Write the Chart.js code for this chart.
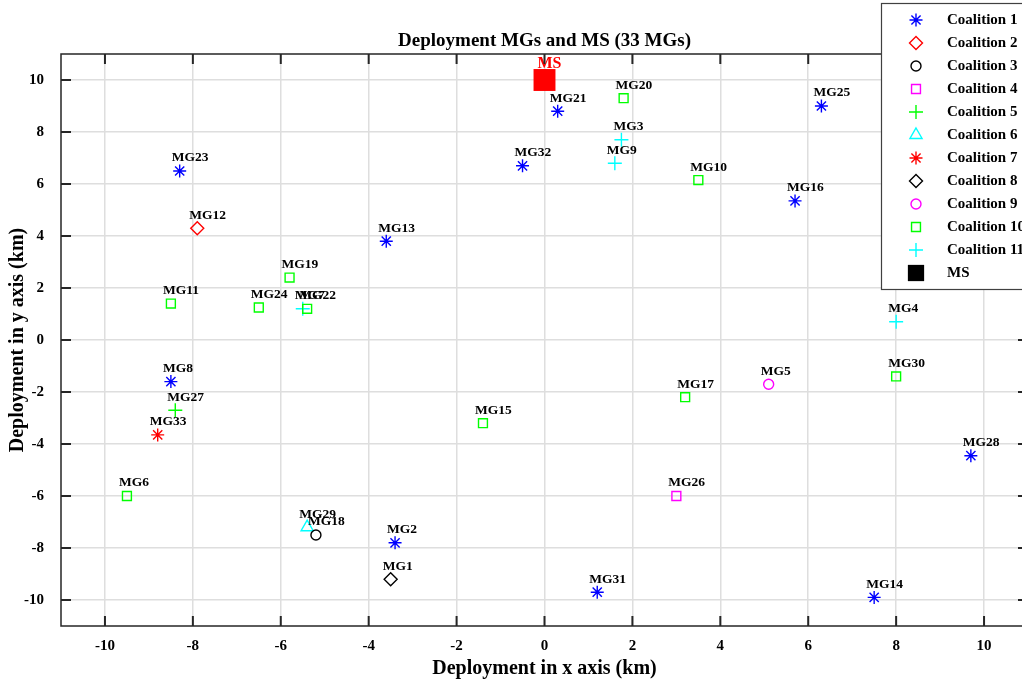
<!DOCTYPE html>
<html>
<head>
<meta charset="utf-8">
<title>Deployment MGs and MS</title>
<script src="https://cdn.jsdelivr.net/npm/chart.js@4.4.1/dist/chart.umd.min.js"></script>
<style>
  html, body { margin: 0; padding: 0; overflow: hidden; background: #fff; }
</style>
</head>
<body>
<canvas id="deploy-chart"></canvas>
<script>
// MG positions (km) and the coalition each one belongs to, MG1..MG33
const mgNames = [];
for (let i = 1; i <= 33; i++) mgNames.push('MG' + i);
const mgX = [-3.5, -3.4, 1.75, 8.0, 5.1, -9.5, -5.5, -8.5, 1.6, 3.5, -8.5,
             -7.9, -3.6, 7.5, -1.4, 5.7, 3.2, -5.2, -5.8, 1.8, 0.3, -5.4,
             -8.3, -6.5, 6.3, 3.0, -8.4, 9.7, -5.4, 8.0, 1.2, -0.5, -8.8];
const mgY = [-9.2, -7.8, 7.7, 0.7, -1.7, -6.0, 1.2, -1.6, 6.8, 6.15, 1.4,
             4.3, 3.8, -9.9, -3.2, 5.35, -2.2, -7.5, 2.4, 9.3, 8.8, 1.2,
             6.5, 1.25, 9.0, -6.0, -2.7, -4.45, -7.2, -1.4, -9.7, 6.7, -3.65];
const mgCoalition = [8, 1, 11, 11, 9, 10, 11, 1, 11, 10, 10,
                     2, 1, 1, 10, 1, 10, 3, 10, 10, 1, 10,
                     1, 10, 1, 4, 5, 1, 6, 10, 1, 1, 7];

// the macro station
const msX = [0];
const msY = [10];

const coalitionNames = ['Coalition 1', 'Coalition 2', 'Coalition 3', 'Coalition 4',
  'Coalition 5', 'Coalition 6', 'Coalition 7', 'Coalition 8', 'Coalition 9',
  'Coalition 10', 'Coalition 11'];
const coalitionMarker = ['star', 'rectRot', 'circle', 'rect', 'cross', 'triangle',
  'star', 'rectRot', 'circle', 'rect', 'cross'];
const coalitionColor = ['#0000ff', '#ff0000', '#000000', '#ff00ff', '#00ff00', '#00ffff',
  '#ff0000', '#000000', '#ff00ff', '#00ff00', '#00ffff'];
const markerRadius = { star: 6.5, rectRot: 6.5, circle: 5, rect: 6.3, cross: 7, triangle: 7 };

const xTicks = [-10, -8, -6, -4, -2, 0, 2, 4, 6, 8, 10];
const yTicks = [-10, -8, -6, -4, -2, 0, 2, 4, 6, 8, 10];

const SERIF = "'Liberation Serif', 'Times New Roman', serif";
const AXIS = '#262626';

const datasets = coalitionNames.map((name, c) => {
  const pts = [];
  mgNames.forEach((mg, i) => {
    if (mgCoalition[i] === c + 1) pts.push({ x: mgX[i], y: mgY[i], name: mg });
  });
  const style = coalitionMarker[c];
  return {
    label: name,
    data: pts,
    pointStyle: style,
    pointRadius: markerRadius[style],
    pointHoverRadius: markerRadius[style],
    borderColor: coalitionColor[c],
    backgroundColor: 'rgba(0,0,0,0)',
    pointBorderWidth: 1.4,
    showLine: false
  };
});
datasets.push({
  label: 'MS',
  data: msX.map((x, i) => ({ x: x, y: msY[i], name: 'MS' })),
  pointStyle: 'rect',
  pointRadius: 15.5,
  pointHoverRadius: 15.5,
  borderColor: '#ff0000',
  backgroundColor: '#ff0000',
  pointBorderWidth: 0,
  showLine: false
});

// box on all four sides with inward ticks, plus the title
const framePlugin = {
  id: 'frame',
  afterDraw(chart) {
    const { ctx, chartArea: a, scales } = chart;
    ctx.save();
    ctx.strokeStyle = AXIS;
    ctx.lineWidth = 1.5;
    ctx.strokeRect(a.left, a.top, a.right - a.left, a.bottom - a.top);
    ctx.lineWidth = 2;
    ctx.beginPath();
    xTicks.forEach(v => {
      const px = scales.x.getPixelForValue(v);
      ctx.moveTo(px, a.bottom); ctx.lineTo(px, a.bottom - 10);
      ctx.moveTo(px, a.top); ctx.lineTo(px, a.top + 10);
    });
    yTicks.forEach(v => {
      const py = scales.y.getPixelForValue(v);
      ctx.moveTo(a.left, py); ctx.lineTo(a.left + 10, py);
      ctx.moveTo(a.right, py); ctx.lineTo(a.right - 10, py);
    });
    ctx.stroke();

    ctx.fillStyle = '#000';
    ctx.font = 'bold 19px ' + SERIF;
    ctx.textAlign = 'center';
    ctx.textBaseline = 'middle';
    ctx.fillText('Deployment MGs and MS (33 MGs)', (a.left + a.right) / 2, 41);
    ctx.restore();
  }
};

// MG names written just above each marker
const labelPlugin = {
  id: 'mgLabels',
  afterDatasetsDraw(chart) {
    const { ctx } = chart;
    ctx.save();
    ctx.textAlign = 'left';
    ctx.textBaseline = 'middle';
    chart.data.datasets.forEach((ds, di) => {
      const meta = chart.getDatasetMeta(di);
      meta.data.forEach((el, j) => {
        const name = ds.data[j].name;
        if (name === 'MS') {
          ctx.fillStyle = '#ff0000';
          ctx.font = 'bold 16px ' + SERIF;
          ctx.fillText(name, el.x - 7, el.y - 16);
        } else {
          ctx.fillStyle = '#000';
          ctx.font = 'bold 13.5px ' + SERIF;
          ctx.fillText(name, el.x - 8, el.y - 13);
        }
      });
    });
    ctx.restore();
  }
};

// boxed legend in the top-right corner, drawn over the plot
const legendPlugin = {
  id: 'boxLegend',
  afterDraw(chart) {
    const { ctx } = chart;
    const left = 881, top = 3, rowH = 23;
    ctx.save();
    ctx.fillStyle = '#fff';
    ctx.strokeStyle = '#404040';
    ctx.lineWidth = 1.2;
    ctx.fillRect(left, top, 160, 286);
    ctx.strokeRect(left + 0.5, top + 0.5, 160, 286);
    chart.data.datasets.forEach((ds, i) => {
      const y = top + 17 + i * rowH;
      const isMS = ds.label === 'MS';
      ctx.strokeStyle = isMS ? '#000' : ds.borderColor;
      ctx.fillStyle = isMS ? '#000' : 'rgba(0,0,0,0)';
      ctx.lineWidth = 1.4;
      Chart.helpers.drawPoint(ctx, {
        pointStyle: ds.pointStyle,
        radius: isMS ? 11.5 : ds.pointRadius,
        borderWidth: isMS ? 0 : 1.4,
        rotation: 0
      }, 916, y);
      ctx.fillStyle = '#000';
      ctx.font = 'bold 15px ' + SERIF;
      ctx.textAlign = 'left';
      ctx.textBaseline = 'middle';
      ctx.fillText(ds.label, 947, y);
    });
    ctx.restore();
  }
};

document.addEventListener('DOMContentLoaded', () => {
  const canvas = document.getElementById('deploy-chart');
  canvas.setAttribute('width', '1030');
  canvas.setAttribute('height', '687');

  new Chart(canvas, {
    type: 'scatter',
    data: { datasets: datasets },
    options: {
      responsive: false,
      animation: false,
      layout: { autoPadding: false, padding: { top: 54, right: 2, left: 0, bottom: 0 } },
      plugins: {
        legend: { display: false },
        tooltip: { enabled: false },
        title: { display: false }
      },
      scales: {
        x: {
          type: 'linear',
          min: -11,
          max: 11,
          afterFit(s) { s.height = 61; },
          afterBuildTicks(s) { s.ticks = xTicks.map(v => ({ value: v })); },
          ticks: {
            color: '#000',
            padding: 11,
            maxRotation: 0,
            font: { family: SERIF, size: 15, weight: 'bold' }
          },
          grid: { color: '#dedede', lineWidth: 1.5, drawTicks: false },
          border: { display: false },
          title: {
            display: true,
            text: 'Deployment in x axis (km)',
            color: '#000',
            font: { family: SERIF, size: 20, weight: 'bold' },
            padding: { top: 0, bottom: 6 }
          }
        },
        y: {
          type: 'linear',
          min: -11,
          max: 11,
          afterFit(s) { s.width = 61; },
          afterBuildTicks(s) { s.ticks = yTicks.map(v => ({ value: v })); },
          ticks: {
            color: '#000',
            padding: 17,
            font: { family: SERIF, size: 15, weight: 'bold' }
          },
          grid: { color: '#dedede', lineWidth: 1.5, drawTicks: false },
          border: { display: false },
          title: {
            display: true,
            text: 'Deployment in y axis (km)',
            color: '#000',
            font: { family: SERIF, size: 20, weight: 'bold' },
            padding: { top: 6, bottom: 0 }
          }
        }
      }
    },
    plugins: [framePlugin, labelPlugin, legendPlugin]
  });
});
</script>
</body>
</html>
